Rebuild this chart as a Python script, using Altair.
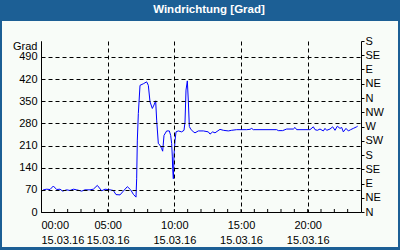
import altair as alt
import pandas as pd

# ---- data ----
hours = [0.0, 0.175, 0.425, 0.675, 0.925, 1.175, 1.425, 1.625, 1.925, 2.175, 2.425, 2.675,
         3.05, 3.3, 3.675, 3.925, 4.225, 4.55, 4.8, 5.175, 5.425, 5.625, 5.925, 6.175, 6.475,
         6.725, 6.925, 7.125, 7.175, 7.225, 7.3, 7.425, 7.675, 7.925, 8.05, 8.175, 8.35, 8.475,
         8.6, 8.675, 8.8, 8.925, 9.05, 9.125, 9.225, 9.425, 9.625, 9.725, 9.8, 9.85, 9.875,
         9.925, 9.95, 9.975, 10.05, 10.125, 10.3, 10.55, 10.725, 10.8, 10.875, 10.975, 11.05,
         11.125, 11.225, 11.425, 11.55, 11.8, 12.175, 12.55, 12.675, 12.875, 13.05, 13.425,
         13.675, 14.05, 14.3, 14.675, 14.925, 15.425, 15.675, 15.8, 15.925, 16.425, 17.675,
         17.8, 18.125, 18.425, 18.925, 19.05, 19.175, 20.05, 20.175, 20.425, 20.55, 20.725,
         20.925, 21.175, 21.3, 21.425, 21.675, 21.875, 22.05, 22.225, 22.425, 22.55, 22.675,
         22.875, 23.05, 23.225, 23.425, 23.675, 23.75]
degrees = [63, 70, 72, 71, 82, 71, 72, 66, 70, 68, 72, 70,
           66, 70, 70, 72, 84, 67, 72, 70, 68, 55, 54, 66, 80,
           70, 56, 47, 105, 227, 311, 400, 405, 411, 400, 348, 327, 338,
           351, 290, 216, 211, 200, 192, 242, 256, 256, 242, 216, 174, 137,
           105, 135, 180, 225, 253, 256, 253, 258, 284, 385, 414, 350,
           270, 262, 253, 250, 256, 256, 253, 246, 253, 250, 261,
           258, 256, 258, 260, 260, 260, 261, 264, 260, 260, 260,
           257, 257, 262, 262, 267, 260, 260, 260, 269, 260, 258,
           262, 256, 264, 258, 262, 269, 258, 271, 264, 267, 253,
           264, 256, 260, 264, 269, 271]

left_ticks = [0, 70, 140, 210, 280, 350, 420, 490]
right_ticks = [0, 45, 90, 135, 180, 225, 270, 315, 360, 405, 450, 495, 540]
compass = ["N", "NE", "E", "SE", "S", "SW", "W", "NW"]
x_ticks = [0, 5, 10, 15, 20]
time_labels = ["00:00", "05:00", "10:00", "15:00", "20:00"]
date_label = "15.03.16"
minor_hours = list(range(1, 24))

title_text = "Windrichtung [Grad]"
BLUE = "#1c5f95"
PANEL = "#f8fcf8"
W, H = 320, 171

df = pd.DataFrame({"h": hours, "v": degrees})
minor_df = pd.DataFrame({"h": minor_hours})

xscale = alt.Scale(domain=[0, 24], nice=False, zero=False)
yscale = alt.Scale(domain=[0, 540], nice=False)

compass_js = "[" + ",".join("'%s'" % c for c in compass) + "]"
time_js = "[" + ",".join("'%s'" % t for t in time_labels) + "]"

x_axis = alt.Axis(values=x_ticks, grid=True, gridDash=[4, 3], gridColor="black", gridOpacity=1,
                  ticks=False, labelPadding=7, labelLineHeight=15, zindex=1,
                  labelExpr="[%s[round(datum.value/5)], '%s']" % (time_js, date_label),
                  domainColor="black", title=None)

left_axis = alt.Axis(values=left_ticks, grid=True, gridDash=[4, 3], gridColor="black", gridOpacity=1,
                     ticks=False, labelPadding=4, domainColor="black", zindex=1,
                     title="Grad", titleAngle=0, titleX=-4, titleY=5, titleAlign="right",
                     titleBaseline="middle", titleFontWeight="normal", titleFontSize=11,
                     titleFont="Liberation Sans", titleColor="black")

right_axis = alt.Axis(values=right_ticks, orient="right", grid=False, ticks=True, tickSize=3,
                      tickColor="black", labelPadding=1, domainColor="black", zindex=1,
                      labelExpr="%s[round(datum.value/45) %% 8]" % compass_js, title=None)

bg = alt.Chart(pd.DataFrame({"a": [0]})).mark_rect(fill=PANEL, clip=False).encode(
    x=alt.value(-39), x2=alt.value(W + 37), y=alt.value(-20), y2=alt.value(H + 35)
)

minor = alt.Chart(minor_df).mark_rule(color="black", strokeWidth=1).encode(
    x=alt.X("h:Q", scale=xscale, axis=x_axis),
    y=alt.value(H), y2=alt.value(H - 3)
)

line = alt.Chart(df).mark_line(color="#0000ff", strokeWidth=1).encode(
    x=alt.X("h:Q", scale=xscale, axis=x_axis),
    y=alt.Y("v:Q", scale=yscale, axis=left_axis)
)

right = alt.Chart(df).mark_line(opacity=0).encode(
    x=alt.X("h:Q", scale=xscale, axis=x_axis),
    y=alt.Y("v:Q", scale=yscale, axis=right_axis)
)

chart = alt.layer(bg, minor, line, right).resolve_axis(y="independent").properties(
    width=W, height=H,
    autosize=alt.AutoSizeParams(type="none"),
    padding={"left": 41, "top": 41, "right": 39, "bottom": 38},
    background=BLUE,
    title=alt.TitleParams(title_text, color="white", fontSize=11.5, font="Liberation Sans",
                          fontWeight="bold", anchor="middle", dx=8, offset=6),
).configure_view(stroke="black", strokeWidth=1, fill=None).configure_axis(
    labelFont="Liberation Sans", labelFontSize=11, labelColor="black"
)

chart.save("out.html", embed_options={"renderer": "svg", "actions": False})
